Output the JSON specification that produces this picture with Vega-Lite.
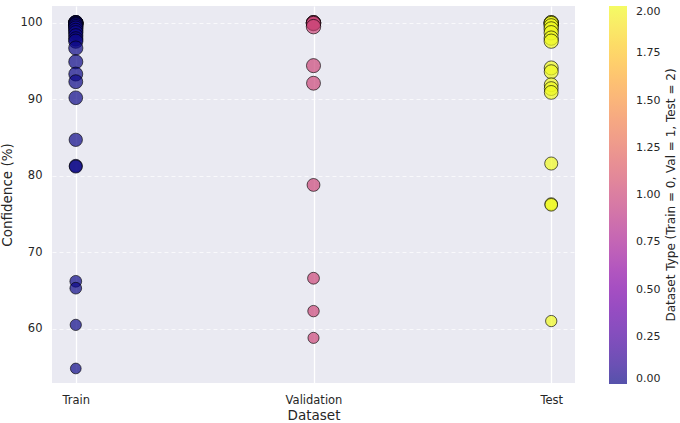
{
  "$schema": "https://vega.github.io/schema/vega-lite/v6.json",
  "autosize": {"type": "none"},
  "padding": {"left": 52, "top": 6, "right": 105, "bottom": 40},
  "width": 523,
  "height": 377,
  "background": "white",
  "config": {
    "view": {"fill": "#EAEAF2", "stroke": null},
    "font": "DejaVu Sans",
    "axis": {"labelColor": "#262626", "titleColor": "#262626", "labelFont": "DejaVu Sans", "titleFont": "DejaVu Sans"},
    "legend": {"labelFont": "DejaVu Sans", "titleFont": "DejaVu Sans"}
  },
  "data": {
    "values": [
      {"dataset": "Train", "type": 0, "confidence": 100},
      {"dataset": "Train", "type": 0, "confidence": 100},
      {"dataset": "Train", "type": 0, "confidence": 100},
      {"dataset": "Train", "type": 0, "confidence": 100},
      {"dataset": "Train", "type": 0, "confidence": 99.9},
      {"dataset": "Train", "type": 0, "confidence": 99.8},
      {"dataset": "Train", "type": 0, "confidence": 99.7},
      {"dataset": "Train", "type": 0, "confidence": 99.5},
      {"dataset": "Train", "type": 0, "confidence": 99.3},
      {"dataset": "Train", "type": 0, "confidence": 99.0},
      {"dataset": "Train", "type": 0, "confidence": 98.7},
      {"dataset": "Train", "type": 0, "confidence": 98.3},
      {"dataset": "Train", "type": 0, "confidence": 97.9},
      {"dataset": "Train", "type": 0, "confidence": 97.6},
      {"dataset": "Train", "type": 0, "confidence": 96.7},
      {"dataset": "Train", "type": 0, "confidence": 94.9},
      {"dataset": "Train", "type": 0, "confidence": 93.3},
      {"dataset": "Train", "type": 0, "confidence": 92.3},
      {"dataset": "Train", "type": 0, "confidence": 90.2},
      {"dataset": "Train", "type": 0, "confidence": 84.7},
      {"dataset": "Train", "type": 0, "confidence": 81.3},
      {"dataset": "Train", "type": 0, "confidence": 81.2},
      {"dataset": "Train", "type": 0, "confidence": 66.2},
      {"dataset": "Train", "type": 0, "confidence": 65.3},
      {"dataset": "Train", "type": 0, "confidence": 60.5},
      {"dataset": "Train", "type": 0, "confidence": 54.8},
      {"dataset": "Validation", "type": 1, "confidence": 100},
      {"dataset": "Validation", "type": 1, "confidence": 100},
      {"dataset": "Validation", "type": 1, "confidence": 100},
      {"dataset": "Validation", "type": 1, "confidence": 99.9},
      {"dataset": "Validation", "type": 1, "confidence": 99.5},
      {"dataset": "Validation", "type": 1, "confidence": 94.4},
      {"dataset": "Validation", "type": 1, "confidence": 92.1},
      {"dataset": "Validation", "type": 1, "confidence": 78.8},
      {"dataset": "Validation", "type": 1, "confidence": 66.6},
      {"dataset": "Validation", "type": 1, "confidence": 62.3},
      {"dataset": "Validation", "type": 1, "confidence": 58.8},
      {"dataset": "Test", "type": 2, "confidence": 100},
      {"dataset": "Test", "type": 2, "confidence": 100},
      {"dataset": "Test", "type": 2, "confidence": 99.9},
      {"dataset": "Test", "type": 2, "confidence": 99.6},
      {"dataset": "Test", "type": 2, "confidence": 99.2},
      {"dataset": "Test", "type": 2, "confidence": 98.7},
      {"dataset": "Test", "type": 2, "confidence": 98.0},
      {"dataset": "Test", "type": 2, "confidence": 97.6},
      {"dataset": "Test", "type": 2, "confidence": 94.1},
      {"dataset": "Test", "type": 2, "confidence": 93.6},
      {"dataset": "Test", "type": 2, "confidence": 91.9},
      {"dataset": "Test", "type": 2, "confidence": 91.4},
      {"dataset": "Test", "type": 2, "confidence": 90.9},
      {"dataset": "Test", "type": 2, "confidence": 81.6},
      {"dataset": "Test", "type": 2, "confidence": 76.3},
      {"dataset": "Test", "type": 2, "confidence": 76.2},
      {"dataset": "Test", "type": 2, "confidence": 61.0}
    ]
  },
  "resolve": {"axis": {"y": "independent"}},
  "layer": [
    {
      "mark": {"type": "point", "shape": "circle", "filled": true, "fillOpacity": 0.7, "strokeOpacity": 0.7, "stroke": "#000000", "strokeWidth": 0.9},
      "encoding": {
        "x": {
          "field": "dataset", "type": "nominal", "sort": ["Train", "Validation", "Test"],
          "scale": {"type": "point", "padding": 0.1},
          "axis": {"title": "Dataset", "labelAngle": 0, "labelFontSize": 11.5, "titleFontSize": 13.5, "titleFontWeight": "normal", "ticks": false, "domain": false, "labelPadding": 11, "titlePadding": 3, "grid": true, "gridColor": "#ffffff", "gridWidth": 1.3, "gridOpacity": 1}
        },
        "y": {
          "field": "confidence", "type": "quantitative",
          "scale": {"domain": [52.9, 102.2], "nice": false, "zero": false},
          "axis": {"title": "Confidence (%)", "values": [60, 70, 80, 90, 100], "labelFontSize": 11.5, "titleFontSize": 13.5, "titleFontWeight": "normal", "ticks": false, "domain": false, "labelPadding": 10, "titlePadding": 6, "grid": true, "gridColor": "#ffffff", "gridDash": [4, 3], "gridWidth": 0.8, "gridOpacity": 0.9}
        },
        "size": {
          "field": "confidence", "type": "quantitative",
          "scale": {"type": "linear", "domain": [0, 100], "range": [0, 210], "zero": true},
          "legend": null
        },
        "color": {
          "field": "type", "type": "quantitative",
          "scale": {"scheme": "plasma", "domain": [0, 2]},
          "legend": {
            "title": null, "orient": "none", "legendX": 557, "legendY": 0,
            "gradientLength": 378, "gradientThickness": 18, "gradientOpacity": 0.7, "gradientStrokeWidth": 0,
            "values": [0, 0.25, 0.5, 0.75, 1, 1.25, 1.5, 1.75, 2], "format": ".2f",
            "labelFontSize": 11, "labelColor": "#262626", "labelOffset": 9, "labelOverlap": false,
            "direction": "vertical", "padding": 0
          }
        }
      }
    },
    {
      "mark": {"type": "point", "opacity": 0},
      "encoding": {
        "x": {"field": "dataset", "type": "nominal", "sort": ["Train", "Validation", "Test"]},
        "y": {
          "field": "confidence", "type": "quantitative",
          "axis": {"orient": "right", "title": "Dataset Type (Train = 0, Val = 1, Test = 2)", "titleAngle": 270, "titleBaseline": "top", "titleFontSize": 12, "titleFontWeight": "normal", "titleLimit": 500, "labels": false, "ticks": false, "domain": false, "grid": false, "offset": 90, "titlePadding": 0}
        }
      }
    }
  ]
}
